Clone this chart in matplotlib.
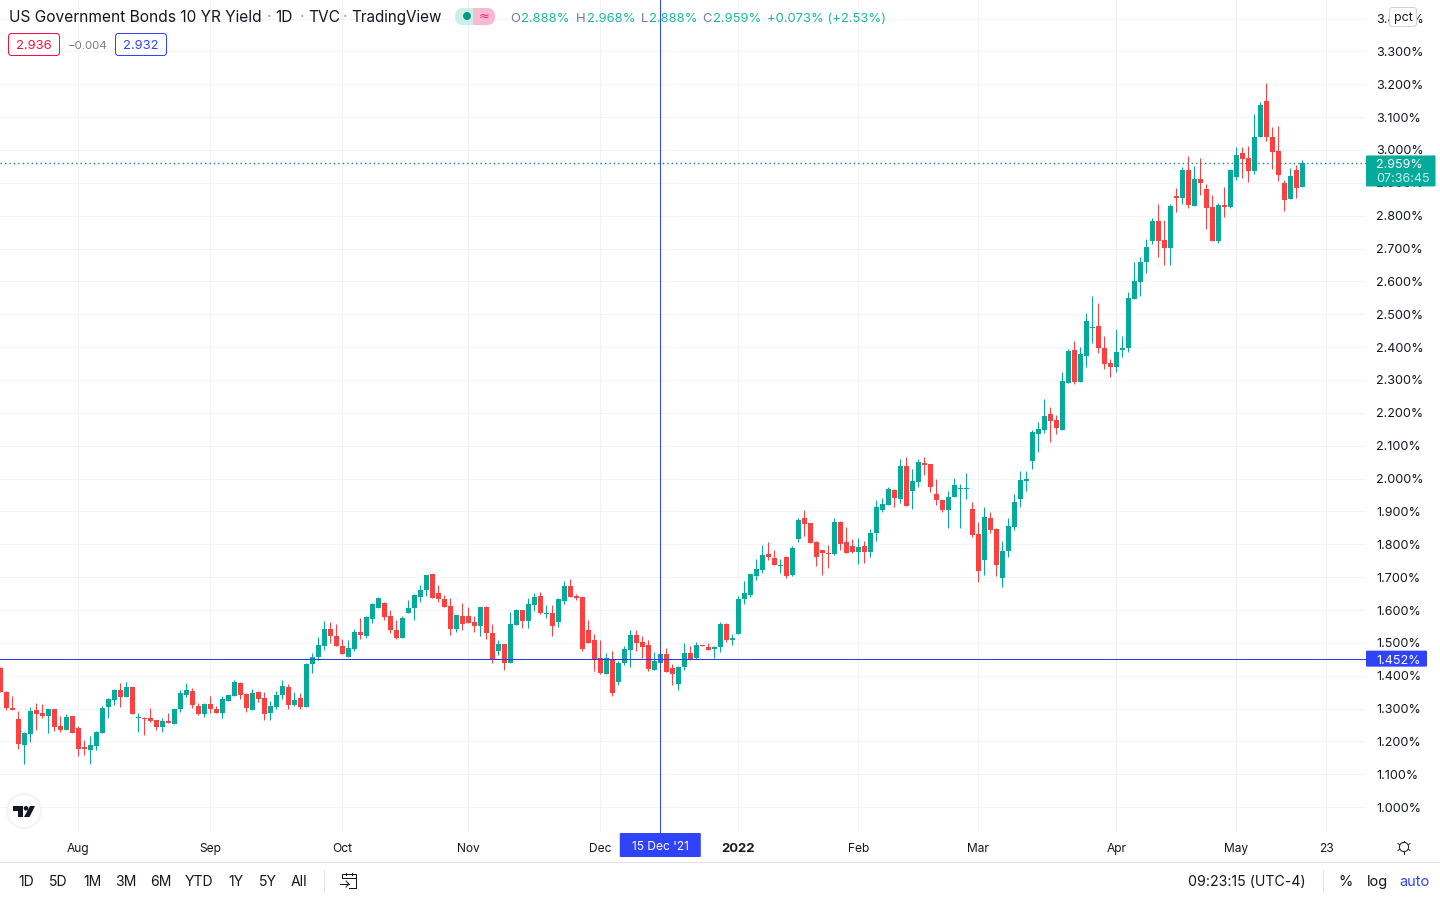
import matplotlib
matplotlib.use("Agg")
import matplotlib.pyplot as plt
from matplotlib.patches import FancyBboxPatch, Rectangle, Circle, Polygon

plt.rcParams['font.family'] = ['Inter', 'DejaVu Sans']

opens = [
 1.423,1.350,1.301,1.268,1.188,1.222,1.295,1.286,1.277,1.298,
 1.246,1.234,1.277,1.240,1.182,1.173,1.185,1.225,1.304,1.325,
 1.356,1.334,1.365,1.271,1.271,1.271,1.265,1.243,1.261,1.252,
 1.298,1.341,1.353,1.307,1.283,1.313,1.298,1.286,1.322,1.338,
 1.377,1.344,1.295,1.350,1.331,1.286,1.304,1.341,1.365,1.310,
 1.331,1.304,1.435,1.456,1.490,1.541,1.520,1.490,1.456,1.481,
 1.532,1.520,1.572,1.605,1.620,1.581,1.538,1.514,1.590,1.605,
 1.639,1.660,1.709,1.651,1.633,1.611,1.541,1.581,1.581,1.563,
 1.551,1.608,1.529,1.474,1.496,1.438,1.554,1.599,1.566,1.614,
 1.642,1.587,1.590,1.563,1.627,1.672,1.642,1.639,1.538,1.508,
 1.453,1.404,1.452,1.380,1.438,1.477,1.525,1.504,1.495,1.416,
 1.440,1.465,1.425,1.376,1.428,1.468,1.455,1.495,1.486,1.480,
 1.486,1.556,1.510,1.528,1.632,1.647,1.705,1.723,1.769,1.757,
 1.735,1.760,1.708,1.817,1.881,1.866,1.808,1.784,1.775,1.769,
 1.869,1.808,1.796,1.778,1.796,1.778,1.833,1.904,1.919,1.965,
 1.937,2.038,1.961,1.989,2.047,2.044,1.952,1.934,1.904,1.943,
 1.968,1.968,1.907,1.831,1.752,1.879,1.846,1.697,1.779,1.852,
 1.937,1.992,2.053,2.135,2.147,2.196,2.177,2.147,2.290,2.390,
 2.293,2.373,2.458,2.465,2.398,2.353,2.341,2.392,2.398,2.547,
 2.599,2.660,2.724,2.785,2.727,2.703,2.861,2.855,2.940,2.831,
 2.913,2.882,2.825,2.724,2.834,2.825,2.919,2.992,2.977,2.937,
 3.041,3.150,3.038,2.998,2.901,2.852,2.940,2.888]
closes = [
 1.351,1.301,1.295,1.191,1.225,1.292,1.283,1.277,1.298,1.243,
 1.234,1.274,1.225,1.176,1.176,1.188,1.228,1.301,1.328,1.356,
 1.334,1.365,1.283,1.274,1.268,1.261,1.243,1.261,1.255,1.298,
 1.347,1.356,1.310,1.283,1.313,1.298,1.286,1.328,1.341,1.380,
 1.341,1.301,1.347,1.328,1.283,1.307,1.341,1.368,1.310,1.325,
 1.304,1.435,1.456,1.493,1.541,1.520,1.490,1.465,1.484,1.532,
 1.523,1.578,1.617,1.636,1.578,1.538,1.514,1.575,1.605,1.645,
 1.660,1.706,1.636,1.633,1.608,1.541,1.584,1.557,1.560,1.551,
 1.608,1.529,1.452,1.496,1.438,1.557,1.599,1.566,1.617,1.639,
 1.590,1.590,1.551,1.633,1.672,1.639,1.636,1.481,1.499,1.447,
 1.408,1.453,1.347,1.438,1.481,1.525,1.501,1.486,1.419,1.446,
 1.465,1.410,1.404,1.428,1.468,1.449,1.495,1.492,1.477,1.486,
 1.556,1.510,1.516,1.632,1.653,1.711,1.726,1.766,1.760,1.738,
 1.738,1.705,1.790,1.875,1.863,1.805,1.760,1.772,1.769,1.869,
 1.802,1.772,1.778,1.793,1.778,1.833,1.915,1.922,1.968,1.940,
 2.038,1.916,1.992,2.050,2.041,1.974,1.934,1.904,1.943,1.980,
 1.971,1.971,1.828,1.718,1.882,1.843,1.736,1.779,1.855,1.928,
 1.995,1.998,2.141,2.150,2.190,2.174,2.153,2.296,2.387,2.293,
 2.378,2.480,2.461,2.398,2.349,2.341,2.386,2.398,2.550,2.602,
 2.660,2.706,2.785,2.724,2.703,2.828,2.855,2.940,2.834,2.913,
 2.901,2.822,2.724,2.834,2.825,2.940,2.986,2.974,2.937,3.041,
 3.138,3.038,2.995,2.925,2.849,2.922,2.885,2.959]
highs = [
 1.426,1.353,1.338,1.292,1.228,1.304,1.316,1.313,1.298,1.298,
 1.277,1.283,1.277,1.246,1.204,1.216,1.231,1.307,1.331,1.359,
 1.377,1.380,1.365,1.286,1.274,1.301,1.265,1.271,1.286,1.301,
 1.356,1.377,1.362,1.316,1.316,1.338,1.307,1.338,1.341,1.386,
 1.380,1.347,1.359,1.353,1.352,1.322,1.353,1.386,1.374,1.350,
 1.347,1.438,1.468,1.517,1.566,1.563,1.557,1.511,1.508,1.541,
 1.575,1.581,1.620,1.639,1.624,1.599,1.569,1.581,1.630,1.648,
 1.675,1.706,1.709,1.675,1.645,1.636,1.584,1.620,1.608,1.581,
 1.608,1.611,1.557,1.508,1.496,1.593,1.602,1.599,1.636,1.651,
 1.654,1.614,1.614,1.636,1.687,1.694,1.648,1.639,1.569,1.526,
 1.508,1.468,1.474,1.444,1.490,1.538,1.538,1.522,1.510,1.471,
 1.486,1.483,1.437,1.431,1.501,1.489,1.504,1.495,1.501,1.492,
 1.562,1.559,1.528,1.644,1.687,1.711,1.754,1.799,1.808,1.784,
 1.754,1.763,1.796,1.881,1.903,1.866,1.811,1.784,1.799,1.881,
 1.872,1.854,1.817,1.820,1.811,1.848,1.935,1.940,1.974,1.968,
 2.059,2.065,2.028,2.059,2.065,2.044,1.998,1.934,1.961,2.001,
 1.983,2.016,1.928,1.867,1.913,1.898,1.849,1.809,1.879,1.952,
 2.022,2.022,2.147,2.171,2.241,2.217,2.193,2.324,2.394,2.418,
 2.400,2.504,2.556,2.534,2.434,2.365,2.456,2.434,2.568,2.660,
 2.675,2.730,2.794,2.837,2.788,2.837,2.885,2.949,2.983,2.952,
 2.977,2.897,2.864,2.840,2.888,2.943,3.010,3.010,3.013,3.108,
 3.147,3.205,3.071,3.074,2.910,2.946,2.955,2.968]
lows = [
 1.351,1.295,1.295,1.176,1.131,1.198,1.234,1.271,1.225,1.231,
 1.228,1.234,1.225,1.155,1.158,1.131,1.173,1.225,1.271,1.310,
 1.304,1.334,1.283,1.228,1.219,1.258,1.234,1.228,1.255,1.252,
 1.289,1.334,1.301,1.280,1.274,1.286,1.286,1.271,1.322,1.338,
 1.328,1.289,1.295,1.319,1.265,1.265,1.298,1.328,1.298,1.307,
 1.298,1.304,1.408,1.447,1.477,1.499,1.490,1.465,1.456,1.474,
 1.511,1.514,1.560,1.605,1.569,1.529,1.511,1.514,1.590,1.569,
 1.624,1.642,1.636,1.624,1.608,1.523,1.532,1.538,1.560,1.532,
 1.520,1.511,1.438,1.462,1.417,1.438,1.554,1.544,1.544,1.596,
 1.587,1.575,1.520,1.547,1.617,1.639,1.630,1.476,1.499,1.414,
 1.404,1.404,1.338,1.371,1.432,1.428,1.474,1.455,1.413,1.416,
 1.440,1.410,1.373,1.358,1.416,1.449,1.452,1.492,1.477,1.455,
 1.471,1.504,1.495,1.528,1.617,1.641,1.690,1.714,1.751,1.738,
 1.714,1.696,1.702,1.808,1.824,1.805,1.735,1.708,1.729,1.766,
 1.784,1.772,1.772,1.741,1.744,1.760,1.811,1.898,1.919,1.913,
 1.925,1.916,1.907,1.974,2.010,1.958,1.919,1.898,1.849,1.943,
 1.849,1.937,1.821,1.684,1.706,1.834,1.703,1.669,1.761,1.843,
 1.913,1.961,2.028,2.080,2.138,2.111,2.135,2.147,2.290,2.287,
 2.293,2.340,2.413,2.382,2.334,2.310,2.325,2.371,2.386,2.547,
 2.556,2.626,2.715,2.675,2.650,2.650,2.812,2.837,2.822,2.831,
 2.864,2.761,2.724,2.718,2.797,2.822,2.910,2.916,2.904,2.928,
 3.038,3.028,2.943,2.907,2.815,2.852,2.855,2.888]

month_bars = [13, 35, 57, 78, 100, 123, 143, 163, 186, 206, 221]
month_labels = ['Aug', 'Sep', 'Oct', 'Nov', 'Dec', '2022', 'Feb', 'Mar', 'Apr', 'May', '23']
price_ticks = [1.0 + 0.1 * k for k in range(25)]
range_buttons = ['1D', '5D', '1M', '3M', '6M', 'YTD', '1Y', '5Y', 'All']
range_centres = [26, 58, 92, 126, 161, 199, 236, 268, 299]
crosshair_bar = 110
crosshair_price = 1.452
last_price = 2.959

GREEN = '#04AB9A'
RED = '#FF4040'
BLUE = '#2F43FA'
INK = '#131722'
GRID = '#F0F3F8'
BORDER = '#E0E3EB'
PX = 0.72  # points per pixel at dpi 100

fig = plt.figure(figsize=(14.4, 9), dpi=100, facecolor='white')
ax = fig.add_axes([0, 67 / 900, 1366 / 1440, 833 / 900])
ax.set_xlim(-0.05, 227.62)
ax.set_ylim(0.9214, 3.4564)
for s in ax.spines.values():
    s.set_visible(False)

ax.set_axisbelow(True)
ax.grid(True, color=GRID, linewidth=PX)
ax.set_yticks(price_ticks, [f'{v:.3f}%' for v in price_ticks])
ax.yaxis.tick_right()
ax.set_xticks(month_bars, month_labels)
ax.tick_params(axis='y', length=0, pad=10 * PX, labelsize=12.6 * PX, labelcolor=INK)
ax.tick_params(axis='x', length=0, pad=10 * PX, labelsize=12 * PX, labelcolor=INK)
for lab in ax.get_xticklabels():
    if lab.get_text() == '2022':
        lab.set_fontweight('bold')
        lab.set_fontsize(13 * PX)

xs = list(range(len(opens)))
cols = [GREEN if c >= o else RED for o, c in zip(opens, closes)]
ax.vlines(xs, lows, highs, colors=cols, linewidth=PX, zorder=2)
ax.bar(xs, [abs(c - o) for o, c in zip(opens, closes)],
       bottom=[min(o, c) for o, c in zip(opens, closes)],
       width=5 / 6, color=cols, linewidth=0, zorder=3)

last_line = ax.axhline(last_price, color='#008F80', linewidth=1.0, linestyle=(0, (1, 2.2)), zorder=4)
last_line.set_snap(True)
ax.axhline(crosshair_price, color='#2B3AD8', linewidth=PX, zorder=5)
ax.axvline(crosshair_bar, color=BLUE, linewidth=PX, zorder=5)

# interface layer in pixel coordinates
ov = fig.add_axes([0, 0, 1, 1], facecolor='none')
ov.set_xlim(0, 1440)
ov.set_ylim(900, 0)
ov.axis('off')


def y_px(v):
    return 900 - ax.transData.transform((0, v))[1]


def x_px(i):
    return ax.transData.transform((i, 0))[0]


def T(x, y, s, size=13, color=INK, ha='left', **kw):
    ov.text(x, y + 1.5, s, fontsize=size * PX, color=color, ha=ha, va='center', **kw)


def box(x, y, w, h, fc, ec='none', r=2, lw=1):
    ov.add_patch(FancyBboxPatch((x, y), w, h, boxstyle=f'round,pad=0,rounding_size={r}',
                                fc=fc, ec=ec, lw=lw * PX, zorder=6))


# header
T(9, 16, 'US Government Bonds 10 YR Yield', 15.5, zorder=7)
T(267, 16, '·', 15.5, '#9598A1', zorder=7)
T(275, 16, '1D', 15.5, zorder=7)
T(300, 16, '·', 15.5, '#9598A1', zorder=7)
T(308, 16, 'TVC', 15.5, zorder=7)
T(343, 16, '·', 15.5, '#9598A1', zorder=7)
T(351, 16, 'TradingView', 15.2, zorder=7)
box(455, 8, 26, 17, '#CDEFEA', r=8)
box(473, 8, 22, 17, '#FBB8D3', r=8)
ov.add_patch(Rectangle((473, 8), 8, 17, fc='#FBB8D3', ec='none', zorder=6))
ov.add_patch(Circle((467, 16), 4, fc='#089981', ec='none', zorder=7))
T(484, 14.5, '≈', 13, '#F0296E', ha='center', zorder=7, family=['DejaVu Sans'])

teal_txt = '#1FB5A2'
grey_txt = '#787B86'
for x, s, c in [(510.5, 'O', grey_txt), (521.5, '2.888%', teal_txt), (575.5, 'H', grey_txt),
                (586.5, '2.968%', teal_txt), (640.5, 'L', grey_txt), (649.5, '2.888%', teal_txt),
                (702.5, 'C', grey_txt), (713.5, '2.959%', teal_txt),
                (767, '+0.073% (+2.53%)', teal_txt)]:
    T(x, 17, s, 13, c, zorder=7)

box(8.5, 33.5, 51, 22, 'white', '#F7103F', r=3)
T(34, 44.5, '2.936', 13, '#F7103F', ha='center', zorder=7)
T(68, 44.5, '−0.004', 11.5, grey_txt, zorder=7)
box(115.5, 33.5, 51, 22, 'white', BLUE, r=3)
T(141, 44.5, '2.932', 13, BLUE, ha='center', zorder=7)

# pct box
box(1389.5, 7.5, 27, 19, 'white', '#D1D4DC', r=3)
T(1403, 16, 'pct', 12.5, INK, ha='center', zorder=7)

# price tags
ly = y_px(last_price)
box(1366, ly - 8, 69.5, 31, GREEN, r=1)
T(1376, ly + 0.5, '2.959%', 12.6, 'white', zorder=7)
T(1376, ly + 14.5, '07:36:45', 12.6, '#C8F0EA', zorder=7)
cy = y_px(crosshair_price)
box(1366, cy - 8, 61, 16, BLUE, r=1)
T(1376, cy + 0.5, '1.452%', 12.6, 'white', zorder=7)
cx = x_px(crosshair_bar)
box(cx - 40.5, 833, 81, 24, BLUE, r=1)
T(cx, 846, "15 Dec '21", 12, 'white', ha='center', zorder=7)

# bottom bar
ov.plot([0, 1440], [861.5, 861.5], color=BORDER, lw=PX)
for s, x in zip(range_buttons, range_centres):
    T(x, 880.5, s, 14, ha='center', zorder=7)
ov.plot([323.5, 323.5], [870, 892], color=BORDER, lw=PX)
ov.plot([1322.5, 1322.5], [870, 892], color=BORDER, lw=PX)
T(1246.5, 880.5, '09:23:15 (UTC-4)', 14.2, ha='center', zorder=7)
T(1346, 880.5, '%', 14.5, ha='center', zorder=7)
T(1377, 880.5, 'log', 14.5, ha='center', zorder=7)
T(1414.5, 880.5, 'auto', 14.5, BLUE, ha='center', zorder=7)

# calendar icon
ov.plot([342, 342, 356, 356, 349], [878, 874, 874, 888, 888], color=INK, lw=PX)
ov.plot([342, 356], [878, 878], color=INK, lw=PX)
ov.plot([346, 346], [872.5, 875], color=INK, lw=PX)
ov.plot([352, 352], [872.5, 875], color=INK, lw=PX)
ov.plot([340, 349], [884, 884], color=INK, lw=PX)
ov.plot([346, 349, 346], [881, 884, 887], color=INK, lw=PX)

# settings icon
ov.add_patch(Circle((1404, 847), 4.6, fc='white', ec=INK, lw=PX, zorder=7))
for dx, dy in [(0, -6.5), (0, 6.5), (-6, -3.3), (6, -3.3), (-6, 3.3), (6, 3.3)]:
    ov.plot([1404 + dx * 0.8, 1404 + dx], [847 + dy * 0.8, 847 + dy], color=INK, lw=PX, zorder=7)

# watermark logo
ov.add_patch(Circle((24, 811), 17, fc='white', ec='#F0F3FA', lw=1.4, zorder=7))
ov.add_patch(Polygon([(13, 806), (23, 806), (23, 817), (18, 817), (18, 810.5), (13, 810.5)],
                     fc=INK, ec='none', zorder=8))
ov.add_patch(Circle((26, 808.3), 2.3, fc=INK, ec='none', zorder=8))
ov.add_patch(Polygon([(30, 806), (35, 806), (29.5, 817), (24, 817)], fc=INK, ec='none', zorder=8))

fig.savefig('out.png', dpi=100, facecolor='white')
